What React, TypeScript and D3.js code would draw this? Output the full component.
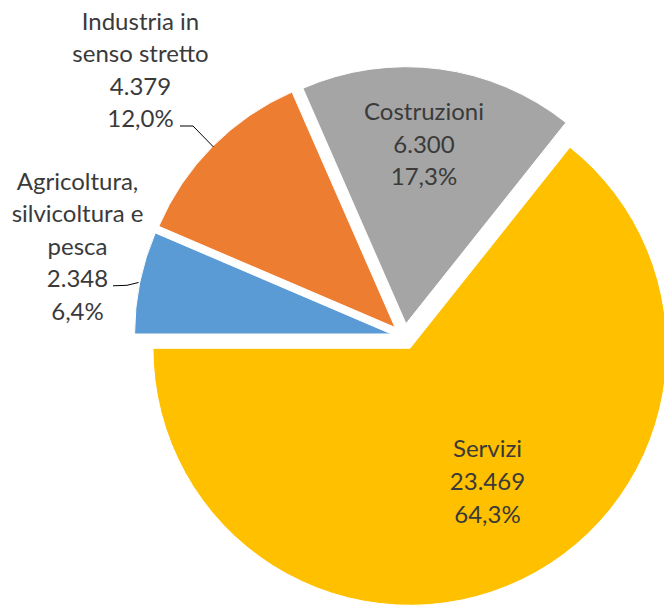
import React from "react";
import * as d3 from "d3";

const categories = [
  "Agricoltura, silvicoltura e pesca",
  "Industria in senso stretto",
  "Costruzioni",
  "Servizi",
];
const values = [2348, 4379, 6300, 23469];
const valueLabels = ["2.348", "4.379", "6.300", "23.469"];
const percentLabels = ["6,4%", "12,0%", "17,3%", "64,3%"];
const nameLines = [
  ["Agricoltura,", "silvicoltura e", "pesca"],
  ["Industria in", "senso stretto"],
  ["Costruzioni"],
  ["Servizi"],
];
const colors = ["#5B9BD5", "#ED7D31", "#A5A5A5", "#FFC000"];

// layout
const W = 664;
const H = 606;
const CX = 404.3;
const CY = 336.6;
const R = 257;
const EXPLODE = 13;
const LINE_H = 32.6;
const labelPos = [
  { x: 77.5, y: 189.5 },
  { x: 140.5, y: 29.5 },
  { x: 424, y: 120 },
  { x: 487.5, y: 457.3 },
];
const leaders: ([number, number][] | null)[] = [
  [
    [113, 285.8],
    [127, 285.3],
    [138.5, 282.5],
  ],
  [
    [180, 126],
    [193, 126],
    [213.5, 147],
  ],
  null,
  null,
];

export default function App() {
  const pie = d3
    .pie<number>()
    .sort(null)
    .value((d) => d)
    .startAngle(-Math.PI / 2)
    .endAngle((3 * Math.PI) / 2);
  const arcs = pie(values);
  const arc = d3.arc<d3.PieArcDatum<number>>().innerRadius(0).outerRadius(R);

  return (
    <svg
      width={W}
      height={H}
      style={{ position: "absolute", left: 0, top: 0, background: "#fff" }}
      fontFamily="Lato, 'Open Sans', sans-serif"
    >
      <g transform={`translate(${CX},${CY})`}>
        {arcs.map((a, i) => {
          const mid = (a.startAngle + a.endAngle) / 2;
          const dx = Math.sin(mid) * EXPLODE;
          const dy = -Math.cos(mid) * EXPLODE;
          return (
            <path
              key={categories[i]}
              d={arc(a) || ""}
              fill={colors[i]}
              stroke="#fff"
              strokeWidth={1}
              transform={`translate(${dx},${dy})`}
            />
          );
        })}
      </g>
      {leaders.map((pts, i) =>
        pts ? (
          <polyline
            key={"l" + i}
            points={pts.map((p) => p.join(",")).join(" ")}
            fill="none"
            stroke="#000"
            strokeWidth={1}
          />
        ) : null
      )}
      {categories.map((c, i) => {
        const lines = [...nameLines[i], valueLabels[i], percentLabels[i]];
        return (
          <text
            key={"t" + c}
            x={labelPos[i].x}
            y={labelPos[i].y}
            textAnchor="middle"
            fontSize={24}
            fill="#3a3a3a"
          >
            {lines.map((ln, j) => (
              <tspan key={j} x={labelPos[i].x} y={labelPos[i].y + j * LINE_H}>
                {ln}
              </tspan>
            ))}
          </text>
        );
      })}
    </svg>
  );
}
